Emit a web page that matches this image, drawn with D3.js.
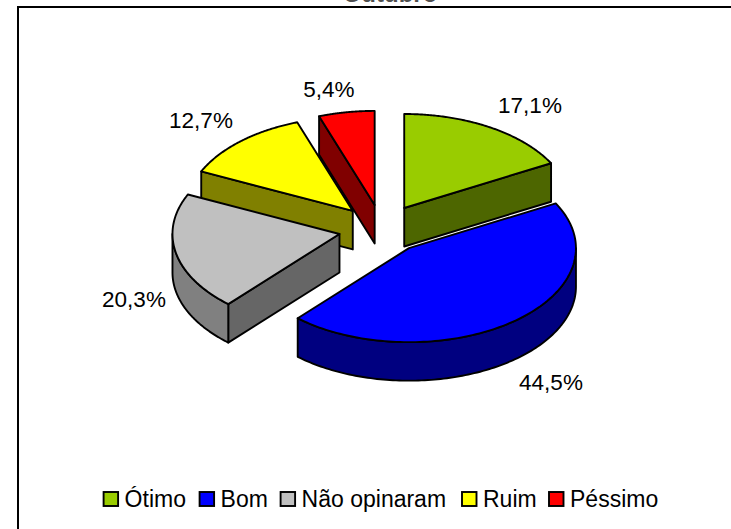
<!DOCTYPE html>
<html><head><meta charset="utf-8">
<script src="https://cdn.jsdelivr.net/npm/d3@7"></script>
<style>html,body{margin:0;padding:0;background:#fff}svg{display:block}text{font-family:"Liberation Sans",Arial,sans-serif;fill:#000}</style>
</head><body><div id="c"></div>
<script>
const categories=["Ótimo","Bom","Não opinaram","Ruim","Péssimo"];
const values=[17.1,44.5,20.3,12.7,5.4];
const topColors=["#99cc00","#0000ff","#c0c0c0","#ffff00","#ff0000"];
const rimColors=["#4d6600","#000080","#808080","#808000","#800000"];
const cutColors=["#4d6600","#000080","#666666","#808000","#800000"];
const labels=["17,1%","44,5%","20,3%","12,7%","5,4%"];
const labelPos=[[530,105],[551,382],[134,299],[201,120],[329,89]];
const drawOrder=[3,4,0,2,1];
const W=731,H=529,cx=382,cy=229,rx=167,ry=94,depth=38.5,explode=.26;
const svg=d3.select("#c").append("svg").attr("width",W).attr("height",H);
svg.append("rect").attr("x",18).attr("y",7).attr("width",W).attr("height",H)
  .attr("fill","#fff").attr("stroke","#000").attr("stroke-width",2);
const arcs=d3.pie().sort(null)(values);
const px=d3.scaleLinear().domain([-1,1]).range([cx-rx,cx+rx]);
const py=d3.scaleLinear().domain([-1,1]).range([cy+ry,cy-ry]);
const line=d3.line();
function pt(a,r,ox,oy,dz){return [px(ox+r*Math.sin(a)),py(oy+r*Math.cos(a))+(dz||0)];}
function arcAngles(a0,a1){return d3.range(0,121).map(i=>a0+(a1-a0)*i/120);}
drawOrder.forEach(i=>{
  const d=arcs[i],mid=(d.startAngle+d.endAngle)/2;
  const ox=explode*Math.sin(mid),oy=explode*Math.cos(mid);
  const g=svg.append("g").attr("stroke","#000").attr("stroke-width",1.9).attr("stroke-linejoin","round");
  const apex=pt(0,0,ox,oy),apexB=pt(0,0,ox,oy,depth);
  function quad(a,fill){
    const p=pt(a,1,ox,oy),pb=pt(a,1,ox,oy,depth);
    g.append("path").attr("d",line([apex,p,pb,apexB])+"Z").attr("fill",fill);
  }
  // a cut face shows only when it turns towards the viewer
  if(Math.sin(d.startAngle)<-1e-6) quad(d.startAngle,cutColors[i]);
  if(Math.sin(d.endAngle)>1e-6) quad(d.endAngle,cutColors[i]);
  const s=Math.max(d.startAngle,Math.PI/2),e=Math.min(d.endAngle,Math.PI*1.5);
  if(e>s){
    const as=arcAngles(s,e);
    const rim=as.map(a=>pt(a,1,ox,oy)).concat(as.slice().reverse().map(a=>pt(a,1,ox,oy,depth)));
    g.append("path").attr("d",line(rim)+"Z").attr("fill",rimColors[i]);
  }
  const topPts=[apex].concat(arcAngles(d.startAngle,d.endAngle).map(a=>pt(a,1,ox,oy)));
  g.append("path").attr("d",line(topPts)+"Z").attr("fill",topColors[i]);
});
svg.selectAll("text.l").data(labels).join("text").attr("class","l")
  .attr("x",(d,i)=>labelPos[i][0]).attr("y",(d,i)=>labelPos[i][1]+8)
  .attr("text-anchor","middle").attr("font-size",22.5).text(d=>d);
svg.append("text").attr("x",390).attr("y",1.5).attr("text-anchor","middle").attr("font-size",24).attr("font-weight","bold").attr("fill-opacity",.7).text("Outubro");
const legendX=[103.6,199.6,280.6,462,549],legendY=492;
const leg=svg.selectAll("g.k").data(categories).join("g").attr("class","k")
  .attr("transform",(d,i)=>`translate(${legendX[i]},${legendY})`);
leg.append("rect").attr("width",14.5).attr("height",14)
  .attr("fill",(d,i)=>topColors[i]).attr("stroke","#000").attr("stroke-width",1.9);
leg.append("text").attr("x",21).attr("y",14.7).attr("font-size",23).text(d=>d);
</script></body></html>
